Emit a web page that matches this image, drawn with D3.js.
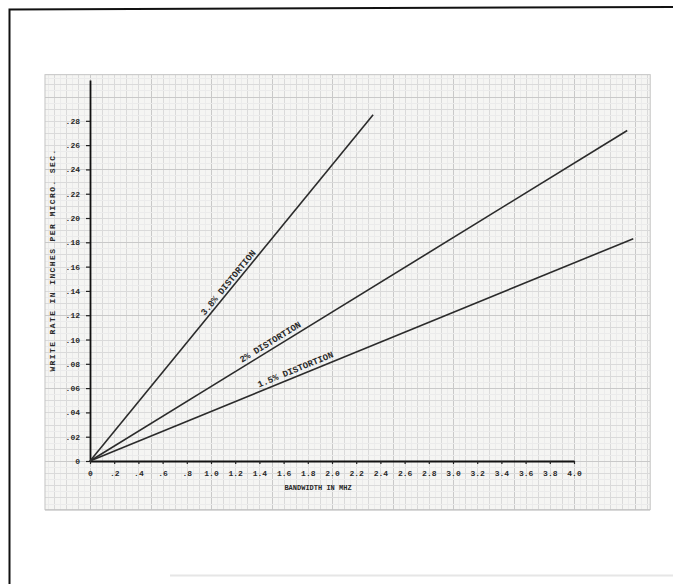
<!DOCTYPE html>
<html>
<head>
<meta charset="utf-8">
<script src="https://cdn.jsdelivr.net/npm/d3@7"></script>
<style>
  body { margin: 0; background: #fff; }
  svg text { font-family: "Liberation Mono", "DejaVu Sans Mono", monospace; fill: #2a2a2a; }
</style>
</head>
<body>
<svg id="chart" width="673" height="584"></svg>
<script>
// Axis ticks and their typed labels
const xTicks = [0, 0.2, 0.4, 0.6, 0.8, 1.0, 1.2, 1.4, 1.6, 1.8, 2.0, 2.2, 2.4, 2.6, 2.8, 3.0, 3.2, 3.4, 3.6, 3.8, 4.0];
const xTickLabels = ["0", ".2", ".4", ".6", ".8", "1.0", "1.2", "1.4", "1.6", "1.8", "2.0", "2.2", "2.4", "2.6", "2.8", "3.0", "3.2", "3.4", "3.6", "3.8", "4.0"];
const yTicks = [0, 0.02, 0.04, 0.06, 0.08, 0.10, 0.12, 0.14, 0.16, 0.18, 0.20, 0.22, 0.24, 0.26, 0.28];
const yTickLabels = ["0", ".02", ".04", ".06", ".08", ".10", ".12", ".14", ".16", ".18", ".20", ".22", ".24", ".26", ".28"];

// Distortion curves: bandwidth (MHz) -> write rate (in/µs)
const seriesNames = ["3.8% DISTORTION", "2% DISTORTION", "1.5% DISTORTION"];
const distortion38 = [[0, 0], [2.34, 0.285]];
const distortion20 = [[0, 0], [4.44, 0.272]];
const distortion15 = [[0, 0], [4.49, 0.183]];
// Bandwidth at which each curve's caption is centred
const captionAt = [1.18, 1.52, 1.72];

const xTitle = "BANDWIDTH IN MHZ";
const yTitle = "WRITE RATE IN INCHES PER MICRO. SEC.";

const svg = d3.select("#chart");
const x = d3.scaleLinear().domain([0, 4]).range([90, 574]);
const y = d3.scaleLinear().domain([0, 0.3136]).range([461, 80]);

// Page frame
svg.append("path")
  .attr("d", "M9.5,584 L9.5,9.5 L673,7")
  .attr("fill", "none").attr("stroke", "#111").attr("stroke-width", 2);
svg.append("line")
  .attr("x1", 170).attr("x2", 673).attr("y1", 575.5).attr("y2", 575.5)
  .attr("stroke", "#e6e6e6").attr("stroke-width", 2);

// Graph paper
const paper = { x0: -0.372, x1: 4.63, y0: -0.04, y1: 0.318 };
svg.append("rect")
  .attr("x", x(paper.x0)).attr("y", y(paper.y1))
  .attr("width", x(paper.x1) - x(paper.x0))
  .attr("height", y(paper.y0) - y(paper.y1))
  .attr("fill", "#f5f5f3");

const grid = svg.append("g").attr("shape-rendering", "crispEdges");
const vCells = d3.range(-7, 93);   // 0.05 MHz steps
const hCells = d3.range(-8, 64);   // 0.005 in/µs steps
function vStroke(i) { return i % 10 === 0 ? "#c9c9c9" : i % 2 === 0 ? "#dadada" : "#ebebeb"; }
function hStroke(j) { return j % 12 === 0 ? "#c9c9c9" : j % 2 === 0 ? "#dadada" : "#ebebeb"; }
grid.selectAll("line.v").data(vCells).join("line").attr("class", "v")
  .attr("x1", i => Math.round(x(i * 0.05)) + 0.5).attr("x2", i => Math.round(x(i * 0.05)) + 0.5)
  .attr("y1", y(paper.y1)).attr("y2", y(paper.y0))
  .attr("stroke", vStroke).attr("stroke-width", 1);
grid.selectAll("line.h").data(hCells).join("line").attr("class", "h")
  .attr("y1", j => Math.round(y(j * 0.005)) + 0.5).attr("y2", j => Math.round(y(j * 0.005)) + 0.5)
  .attr("x1", x(paper.x0)).attr("x2", x(paper.x1))
  .attr("stroke", hStroke).attr("stroke-width", 1);
svg.append("rect")
  .attr("x", x(paper.x0)).attr("y", y(paper.y1))
  .attr("width", x(paper.x1) - x(paper.x0))
  .attr("height", y(paper.y0) - y(paper.y1))
  .attr("fill", "none").attr("stroke", "#c4c4c4").attr("stroke-width", 1);

// Axes
const yAxis = d3.axisLeft(y).tickValues(yTicks)
  .tickFormat((d, i) => yTickLabels[i]).tickSizeInner(4).tickSizeOuter(0).tickPadding(6);
const gy = svg.append("g").attr("transform", `translate(${x(0)},0)`).call(yAxis);
gy.select(".domain").attr("stroke", "#111").attr("stroke-width", 1.8);
gy.selectAll(".tick line").attr("stroke", "#222").attr("stroke-width", 1.2);
gy.selectAll(".tick text").attr("font-size", 8).attr("font-weight", "bold").attr("fill", "#333");

const xAxis = d3.axisBottom(x).tickValues(xTicks)
  .tickFormat((d, i) => xTickLabels[i]).tickSizeInner(3).tickSizeOuter(0).tickPadding(6);
const gx = svg.append("g").attr("transform", `translate(0,${y(0)})`).call(xAxis);
gx.select(".domain").attr("stroke", "#111").attr("stroke-width", 1.8);
gx.selectAll(".tick line").attr("stroke", "#222").attr("stroke-width", 1.2);
gx.selectAll(".tick text").attr("font-size", 8).attr("font-weight", "bold").attr("fill", "#333");

// Axis titles
svg.append("text").attr("x", 318).attr("y", 490).attr("text-anchor", "middle")
  .attr("font-size", 7).attr("font-weight", "bold").attr("fill", "#333").text(xTitle);
svg.append("text").attr("transform", "translate(55,260) rotate(-90)")
  .attr("text-anchor", "middle").attr("font-size", 8).attr("font-weight", "bold")
  .attr("letter-spacing", 1.4).attr("fill", "#333").text(yTitle);

// Distortion lines and captions
const series = [distortion38, distortion20, distortion15];
const line = d3.line().x(d => x(d[0])).y(d => y(d[1]));
svg.append("g").selectAll("path").data(series).join("path")
  .attr("d", line).attr("fill", "none").attr("stroke", "#2b2b2b").attr("stroke-width", 1.6);

const captionOffset = [3, 4, 4];
series.forEach((s, k) => {
  const [p0, p1] = s;
  const slope = (p1[1] - p0[1]) / (p1[0] - p0[0]);
  const bx = captionAt[k];
  const px = x(bx), py = y(p0[1] + slope * (bx - p0[0]));
  const ang = Math.atan2(y(p1[1]) - y(p0[1]), x(p1[0]) - x(p0[0])) * 180 / Math.PI;
  svg.append("text")
    .attr("transform", `translate(${px},${py}) rotate(${ang})`)
    .attr("y", -captionOffset[k]).attr("text-anchor", "middle")
    .attr("font-size", 9).attr("font-weight", "bold").attr("fill", "#333")
    .text(seriesNames[k]);
});
</script>
</body>
</html>
